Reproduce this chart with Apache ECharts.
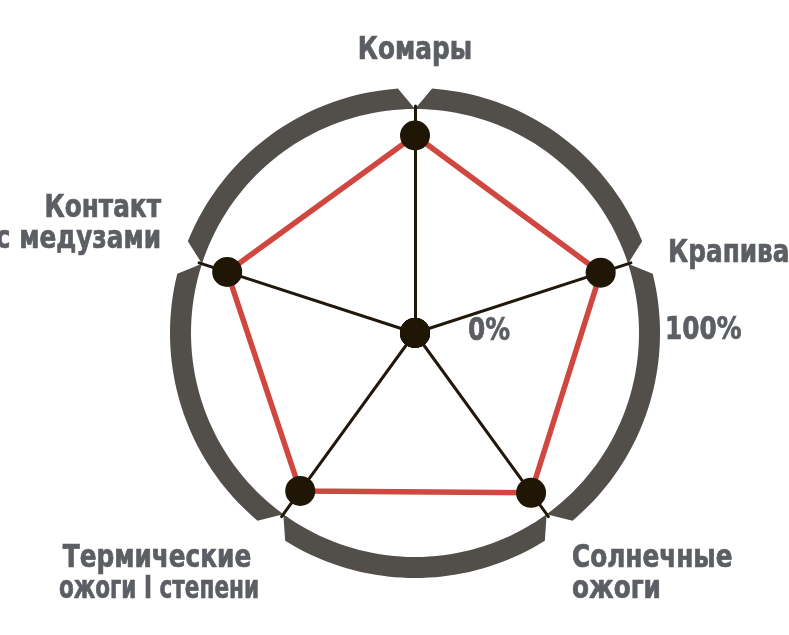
<!DOCTYPE html>
<html><head><meta charset="utf-8">
<script src="https://cdn.jsdelivr.net/npm/echarts@6/dist/echarts.min.js"></script>
<style>html,body{margin:0;padding:0;background:#fff}#c{width:789px;height:635px}</style>
</head><body><div id="c"></div>
<script>
// indicators, counterclockwise from the top (ECharts radar order)
var categories = ['Комары', 'Контакт с медузами', 'Термические ожоги I степени', 'Солнечные ожоги', 'Крапива'];
var values = [87, 87, 86, 87, 86];
var zeroValues = [0, 0, 0, 0, 0];
var maxValue = 100;
var tickLabels = ['0%', '100%'];

var CX = 415, CY = 333, R = 227, RIN = 224, ROUT = 245, NOTCH = 4;
var textColor = '#5b5e63';
var font = '"DejaVu Sans Condensed", "DejaVu Sans", sans-serif';

var chart = echarts.init(document.getElementById('c'), null, {renderer: 'canvas'});

function ringItem(params, api) {
  var n = categories.length, k = params.dataIndex;
  var a0 = 90 + k * 360 / n, a1 = a0 + 360 / n;
  var pts = [], steps = 40, i, a, rad;
  for (i = 0; i <= steps; i++) {
    a = a0 + (a1 - a0) * i / steps; rad = a * Math.PI / 180;
    pts.push([CX + RIN * Math.cos(rad), CY - RIN * Math.sin(rad)]);
  }
  for (i = steps; i >= 0; i--) {
    a = (a0 + NOTCH) + ((a1 - NOTCH) - (a0 + NOTCH)) * i / steps; rad = a * Math.PI / 180;
    pts.push([CX + ROUT * Math.cos(rad), CY - ROUT * Math.sin(rad)]);
  }
  return {type: 'polygon', shape: {points: pts}, style: {fill: '#524e4a'}};
}

function txt(text, x, y, align, sx) {
  return {type: 'text', z: 10, x: x, y: y, scaleX: sx || 0.86, scaleY: 1,
    style: {text: text, x: 0, y: 0, align: align, verticalAlign: 'middle',
      fill: textColor, stroke: textColor, lineWidth: 0.7,
      font: 'bold 32px ' + font, lineHeight: 31}};
}

chart.setOption({
  animation: false,
  radar: {
    center: [CX, CY],
    radius: R,
    startAngle: 90,
    indicator: categories.map(function (c) { return {name: c, min: 0, max: maxValue}; }),
    axisName: {show: false},
    splitNumber: 1,
    axisLine: {lineStyle: {color: '#21170a', width: 3}},
    splitLine: {show: false},
    splitArea: {show: false},
    axisTick: {show: false},
    axisLabel: {show: false}
  },
  graphic: [
    txt(categories[0], 415, 51, 'center'),
    txt(categories[4], 668, 254, 'left'),
    txt('Контакт\nс медузами', 161, 224, 'right'),
    txt('Термические', 157, 558.5, 'center'),
    txt('ожоги I степени', 159, 589.5, 'center', 0.75),
    txt('Солнечные\nожоги', 572, 574, 'left'),
    txt(tickLabels[0], 468, 332, 'left'),
    txt(tickLabels[1], 665, 331, 'left')
  ],
  series: [
    {
      type: 'custom', coordinateSystem: 'none', silent: true, z: 0,
      data: categories.map(function (c, i) { return i; }),
      renderItem: ringItem
    },
    {
      type: 'radar', z: 3, silent: true,
      symbol: 'circle', symbolSize: 30,
      itemStyle: {color: '#1f1605'},
      lineStyle: {color: '#d0473f', width: 5.5},
      data: [{value: values}]
    },
    {
      type: 'radar', z: 4, silent: true,
      symbol: 'circle', symbolSize: 30,
      itemStyle: {color: '#1f1605'},
      lineStyle: {width: 0, opacity: 0},
      data: [{value: zeroValues}]
    }
  ]
});
</script></body></html>
